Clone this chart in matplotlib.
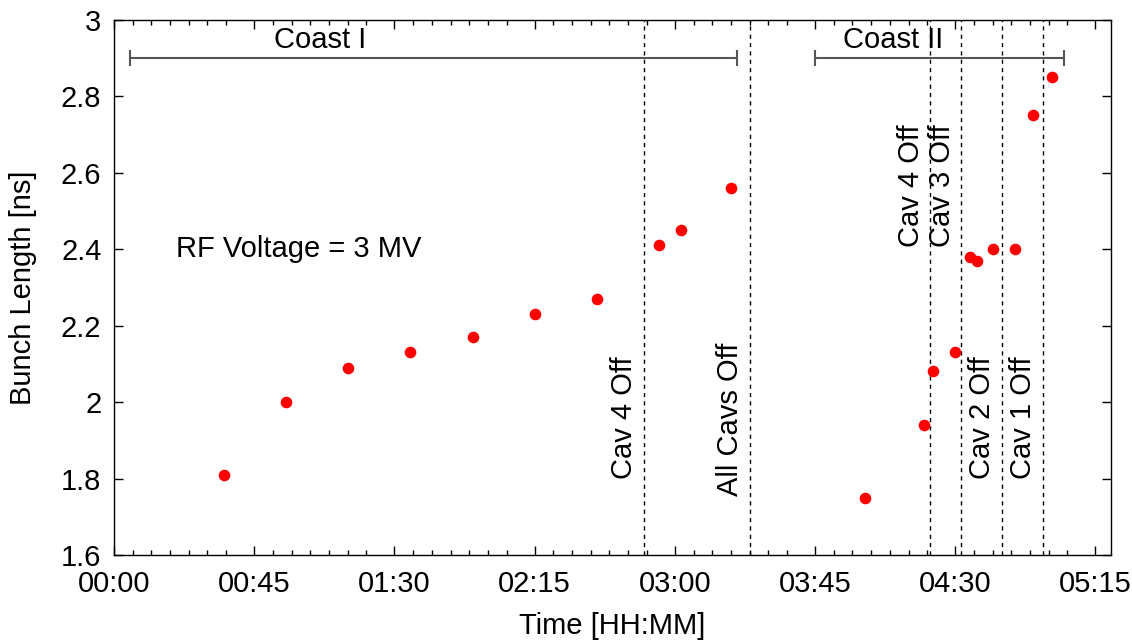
import matplotlib
matplotlib.use('Agg')
import matplotlib.pyplot as plt
from matplotlib.ticker import FixedLocator, FuncFormatter

plt.rcParams['font.family'] = ['Liberation Sans', 'DejaVu Sans']
plt.rcParams['font.size'] = 21

# time in minutes since 00:00, bunch length in ns
t_min = [35.3, 55.2, 75.1, 95.0, 115.2, 135.1, 155.0, 174.8, 181.9, 197.9,
         240.9, 259.9, 262.8, 269.8, 274.6, 276.9, 282.0, 289.1, 294.8, 300.9]
bunch_len = [1.81, 2.00, 2.09, 2.13, 2.17, 2.23, 2.27, 2.41, 2.45, 2.56,
             1.75, 1.94, 2.08, 2.13, 2.38, 2.37, 2.40, 2.40, 2.75, 2.85]

# cavity events (minutes), labels and where their text starts
event_t = [170, 204, 262, 272, 285, 298]
event_lbl = ['Cav 4 Off', 'All Cavs Off', 'Cav 4 Off', 'Cav 3 Off', 'Cav 2 Off', 'Cav 1 Off']
event_y = [1.80, 1.755, 2.405, 2.405, 1.80, 1.80]

# coast periods
coast_lbl = ['Coast I', 'Coast II']
coast_start = [5, 225]
coast_end = [200, 305]

fig = plt.figure(figsize=(11.32, 6.42), dpi=100)
ax = fig.add_axes([0.1007, 0.1355, 0.8808, 0.834])

ax.scatter(t_min, bunch_len, s=70, color='#ff0000', zorder=3, linewidths=0)

for x, lbl, yb in zip(event_t, event_lbl, event_y):
    ax.axvline(x, color='black', lw=1.0, ls=(0, (3, 3)), zorder=1)
    ax.text(x - 1.8, yb, lbl, rotation=90, ha='right', va='bottom', fontsize=21)

for lbl, a, b in zip(coast_lbl, coast_start, coast_end):
    ax.errorbar((a + b) / 2, 2.9, xerr=(b - a) / 2, color='#555555', lw=1.5,
                capsize=6, capthick=1.5, fmt='none')

ax.text(66, 2.947, 'Coast I', ha='center', va='center', fontsize=21)
ax.text(250, 2.947, 'Coast II', ha='center', va='center', fontsize=21)
ax.text(20, 2.4, 'RF Voltage = 3 MV', ha='left', va='center', fontsize=21)

ax.set_xlim(0, 320)
ax.set_ylim(1.6, 3.0)

major = list(range(0, 320, 45))
minor = [m + 6 * k for m in major for k in range(1, 7) if m + 6 * k < 320]
ax.xaxis.set_major_locator(FixedLocator(major))
ax.xaxis.set_minor_locator(FixedLocator(minor))
ax.xaxis.set_major_formatter(FuncFormatter(lambda v, p: '%02d:%02d' % (int(v) // 60, int(v) % 60)))
ax.set_yticks([1.6, 1.8, 2.0, 2.2, 2.4, 2.6, 2.8, 3.0])
ax.yaxis.set_major_formatter(FuncFormatter(lambda v, p: ('%g' % v)))

ax.tick_params(which='both', direction='in', top=True, right=True, labelsize=21)
ax.tick_params(which='major', length=6.5, width=1.0)
ax.tick_params(which='minor', length=3.6, width=1.0)
ax.tick_params(axis='x', pad=11)
ax.tick_params(axis='y', pad=9)
for s in ax.spines.values():
    s.set_linewidth(1.0)

ax.set_xlabel('Time [HH:MM]', fontsize=21, labelpad=10)
ax.set_ylabel('Bunch Length [ns]', fontsize=21, labelpad=17)

plt.savefig('out.png', format='png', dpi=100)
